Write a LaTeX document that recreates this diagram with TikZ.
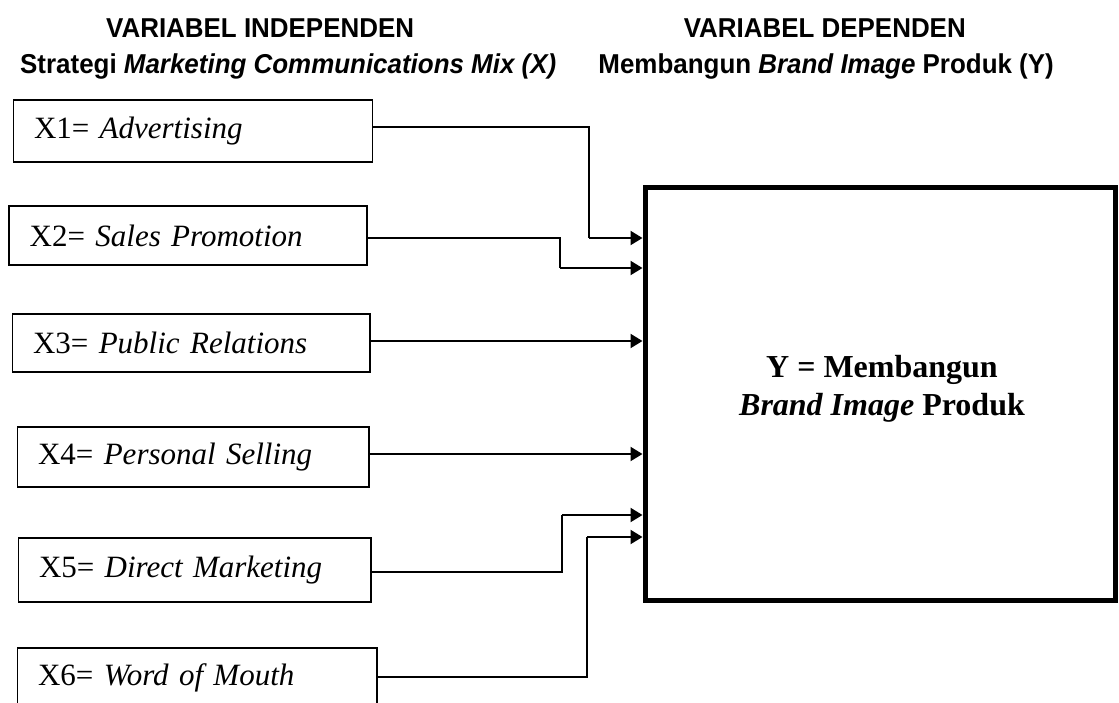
\documentclass[tikz,border=0pt]{standalone}
\usepackage{fontspec}
\setmainfont{Liberation Serif}
\newfontfamily\hfont[FakeStretch=0.95]{Liberation Sans}
\usetikzlibrary{arrows.meta}
\begin{document}
\begin{tikzpicture}[x=1pt,y=-1pt,
  xbox/.style={draw,line width=1.6pt,anchor=north west,inner xsep=20.5pt,inner ysep=0pt,align=left,
    font=\fontsize{31}{37}\selectfont},
  hdr/.style={inner sep=0pt,font=\hfont\bfseries\fontsize{27.3}{30}\selectfont},
  conn/.style={line width=1.2pt},
  connA/.style={line width=2.1pt,-{Triangle[length=12pt,width=14pt]}},
]
\clip (0,0) rectangle (1119,702);
\fill[white] (0,0) rectangle (1119,702);

% headers
\node[hdr,anchor=base west] (h1) at (106,37) {VARIABEL INDEPENDEN};
\node[hdr,anchor=base west] (h2) at (20,73) {Strategi \itshape Marketing Communications Mix (X)};
\node[hdr,anchor=base east] (h3) at (966,37) {VARIABEL DEPENDEN};
\node[hdr,anchor=base east] (h4) at (1054,73) {Membangun \textit{Brand Image} Produk (Y)};

% independent variable boxes
\node[xbox,minimum height=62.4pt,text width=318pt] (x1) at (12.7,99) {X1= \textit{Advertising}};
\node[xbox,minimum height=59.4pt,text width=317pt] (x2) at (8.4,205) {X2= \textit{Sales Promotion}};
\node[xbox,minimum height=58.4pt,text width=316.6pt] (x3) at (11.8,313) {X3= \textit{Public Relations}};
\node[xbox,minimum height=60.4pt,text width=310.6pt] (x4) at (16.8,426) {X4= \textit{Personal Selling}};
\node[xbox,minimum height=64.4pt,text width=311.7pt] (x5) at (17.7,537) {X5= \textit{Direct Marketing}};
\node[xbox,minimum height=60.4pt,text width=318.6pt] (x6) at (16.8,647) {X6= \textit{Word of Mouth}};

% dependent variable box
\node[draw,line width=5pt,anchor=north west,inner sep=0pt,minimum width=470.5pt,minimum height=413pt] (y) at (642.5,185) {};
\node[align=center,inner sep=0pt,font=\bfseries\fontsize{32}{38}\selectfont] (yt) at (882,388.5)
  {Y = Membangun\\\textit{Brand Image} Produk};

% connectors
\coordinate (b1) at (589,238);
\draw[conn] (x1.east |- 0,127) -| (b1);
\draw[connA] (b1) -- (y.west |- b1);

\coordinate (b2) at (560,268);
\draw[conn] (x2.east |- 0,238) -| (b2);
\draw[connA] (b2) -- (y.west |- b2);

\coordinate (b3) at (548,341);
\draw[conn] (x3.east |- b3) -- (b3);
\draw[connA] (b3) -- (y.west |- b3);

\draw[connA] (x4.east |- 0,454) -- (y.west |- 0,454);

\coordinate (b5) at (562,515);
\draw[conn] (x5.east |- 0,572) -| (b5);
\draw[connA] (b5) -- (y.west |- b5);

\coordinate (b6) at (587,537);
\draw[conn] (x6.east |- 0,677) -| (b6);
\draw[connA] (b6) -- (y.west |- b6);
\end{tikzpicture}
\end{document}
